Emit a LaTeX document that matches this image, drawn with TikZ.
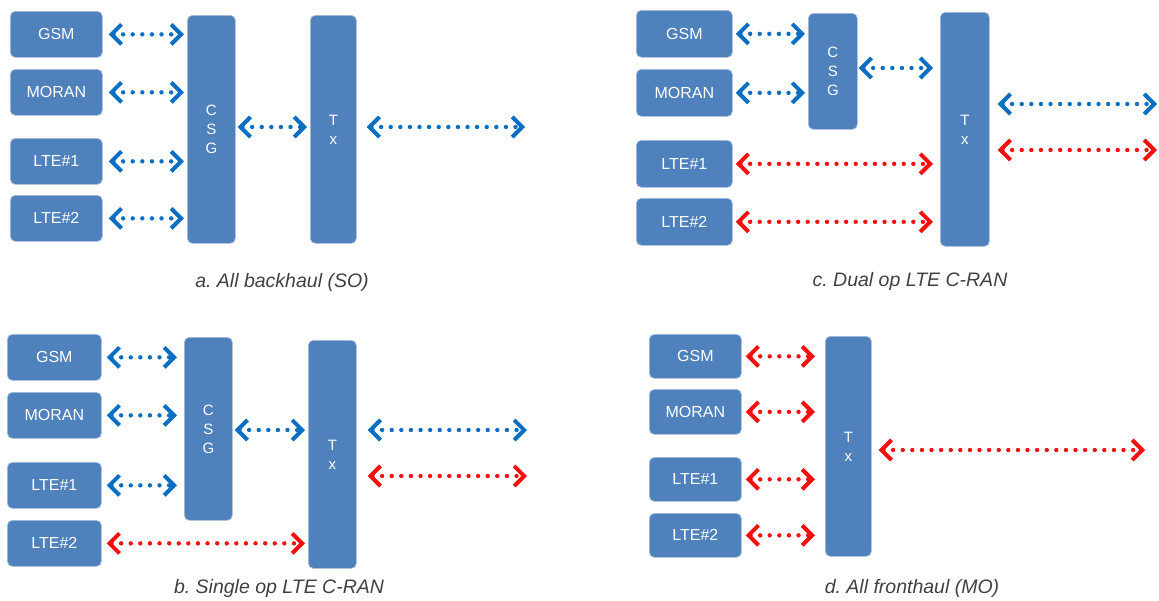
\documentclass[tikz,border=0pt]{standalone}
\usepackage{fontspec}
\setmainfont{Liberation Sans}
\usetikzlibrary{arrows.meta}

\definecolor{boxfill}{HTML}{4F81BD}
\definecolor{boxline}{HTML}{A9BED8}
\definecolor{linkblue}{HTML}{0A6FC2}
\definecolor{linkred}{HTML}{F50F0F}
\definecolor{captext}{HTML}{404040}

\tikzset{
  unit/.style={draw=boxline, line width=0.7pt, fill=boxfill, rounded corners=5pt,
    text=white, font=\fontsize{16}{18}\selectfont, inner sep=0pt,
    anchor=north west, align=center},
  chev/.tip={Straight Barb[length=10pt, width=20pt, line width=4pt]},
  link/.style={line width=4.4pt, line cap=round, dash pattern=on 0pt off 9.6pt,
    chev-chev},
  blink/.style={link, draw=linkblue},
  rlink/.style={link, draw=linkred},
  tall/.style={font=\fontsize{15}{19}\selectfont},
  caption/.style={text=captext, font=\fontsize{19.5}{22}\selectfont\itshape}
}

\begin{document}
\frenchspacing
\begin{tikzpicture}[x=1pt, y=-1pt]
\useasboundingbox (0,0) rectangle (1159,600);

% ---------- a. All backhaul ----------
\node[unit, minimum width=92, minimum height=46] (aGSM) at (10,11) {GSM};
\node[unit, minimum width=92, minimum height=46] (aMORAN) at (10,69) {MORAN};
\node[unit, minimum width=92, minimum height=46] (aLTEa) at (10,138) {LTE\#1};
\node[unit, minimum width=92, minimum height=46] (aLTEb) at (10,195) {LTE\#2};
\node[unit, tall, minimum width=48, minimum height=228] (aCSG) at (187,15) {C\\S\\G};
\node[unit, tall, minimum width=46, minimum height=228] (aTX) at (310,15) {T\\x};
\coordinate (aOut) at (525,127);

\foreach \n in {aGSM,aMORAN,aLTEa,aLTEb}
  \draw[blink] ([xshift=6pt]\n.east) -- ([xshift=-3pt]aCSG.west |- \n.east);
\draw[blink] ([xshift=2pt]aCSG.east |- aOut) -- ([xshift=-3pt]aTX.west |- aOut);
\draw[blink] ([xshift=10pt]aTX.east |- aOut) -- (aOut);
\node[caption] (capA) at (282,282) {a. All backhaul (SO)};

% ---------- b. Single op LTE C-RAN ----------
\node[unit, minimum width=94, minimum height=46] (bGSM) at (7,334) {GSM};
\node[unit, minimum width=94, minimum height=46] (bMORAN) at (7,392) {MORAN};
\node[unit, minimum width=94, minimum height=46] (bLTEa) at (7,462) {LTE\#1};
\node[unit, minimum width=94, minimum height=46] (bLTEb) at (7,520) {LTE\#2};
\node[unit, tall, minimum width=48, minimum height=183] (bCSG) at (184,337) {C\\S\\G};
\node[unit, tall, minimum width=48, minimum height=228] (bTX) at (308,340) {T\\x};
\coordinate (bOutA) at (527,430);
\coordinate (bOutB) at (527,476);

\foreach \n in {bGSM,bMORAN,bLTEa}
  \draw[blink] ([xshift=5pt]\n.east) -- ([xshift=-7pt]bCSG.west |- \n.east);
\draw[rlink] ([xshift=5pt]bLTEb.east) -- ([xshift=-3pt]bTX.west |- bLTEb.east);
\draw[blink] ([xshift=2pt]bCSG.east |- bOutA) -- ([xshift=-3pt]bTX.west |- bOutA);
\draw[blink] ([xshift=11pt]bTX.east |- bOutA) -- (bOutA);
\draw[rlink] ([xshift=11pt]bTX.east |- bOutB) -- (bOutB);
\node[caption] (capB) at (279,588) {b. Single op LTE C-RAN};

% ---------- c. Dual op LTE C-RAN ----------
\node[unit, minimum width=96, minimum height=47] (cGSM) at (636,10) {GSM};
\node[unit, minimum width=96, minimum height=47] (cMORAN) at (636,69) {MORAN};
\node[unit, minimum width=96, minimum height=47] (cLTEa) at (636,140) {LTE\#1};
\node[unit, minimum width=96, minimum height=47] (cLTEb) at (636,198) {LTE\#2};
\node[unit, tall, minimum width=49, minimum height=116] (cCSG) at (808,13) {C\\S\\G};
\node[unit, tall, minimum width=49, minimum height=234] (cTX) at (940,12) {T\\x};
\coordinate (cMid) at (900,68);
\coordinate (cOutA) at (1157,104);
\coordinate (cOutB) at (1157,150);

\foreach \n in {cGSM,cMORAN}
  \draw[blink] ([xshift=3pt]\n.east) -- ([xshift=-3pt]cCSG.west |- \n.east);
\foreach \n in {cLTEa,cLTEb}
  \draw[rlink] ([xshift=3pt]\n.east) -- ([xshift=-7pt]cTX.west |- \n.east);
\draw[blink] ([xshift=1pt]cCSG.east |- cMid) -- ([xshift=-7pt]cTX.west |- cMid);
\draw[blink] ([xshift=8pt]cTX.east |- cOutA) -- (cOutA);
\draw[rlink] ([xshift=8pt]cTX.east |- cOutB) -- (cOutB);
\node[caption] (capC) at (910,281) {c. Dual op LTE C-RAN};

% ---------- d. All fronthaul ----------
\node[unit, minimum width=92, minimum height=44] (dGSM) at (649,334) {GSM};
\node[unit, minimum width=92, minimum height=45] (dMORAN) at (649,389) {MORAN};
\node[unit, minimum width=92, minimum height=44] (dLTEa) at (649,457) {LTE\#1};
\node[unit, minimum width=92, minimum height=44] (dLTEb) at (649,513) {LTE\#2};
\node[unit, tall, minimum width=46, minimum height=220] (dTX) at (825,336) {T\\x};
\coordinate (dOut) at (1145,450);

\foreach \n in {dGSM,dMORAN,dLTEa,dLTEb}
  \draw[rlink] ([xshift=4pt]\n.east) -- ([xshift=-10pt]dTX.west |- \n.east);
\draw[rlink] ([xshift=7pt]dTX.east |- dOut) -- (dOut);
\node[caption] (capD) at (912,588) {d. All fronthaul (MO)};

\end{tikzpicture}
\end{document}
